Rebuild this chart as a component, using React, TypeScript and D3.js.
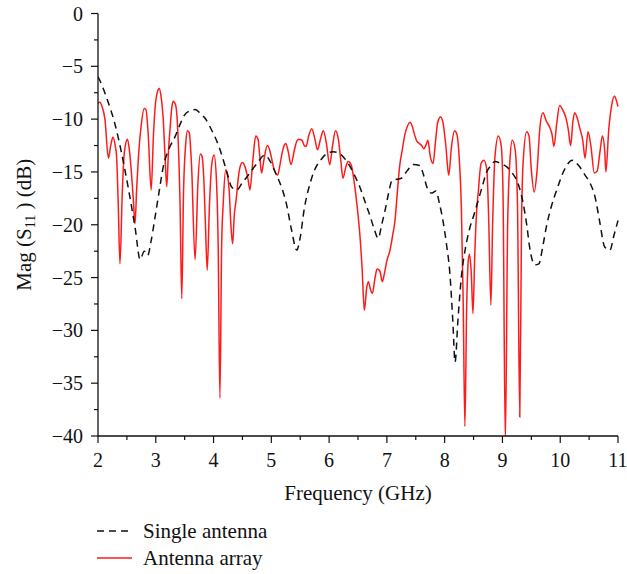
import React from "react";
import * as d3 from "d3";

// Single antenna (dashed black)
const singleFreq = [2.00,2.02,2.15,2.29,2.40,2.52,2.64,2.73,2.80,2.86,2.92,2.99,3.06,3.13,3.23,3.33,3.42,3.50,3.60,3.68,3.76,3.85,3.99,4.08,4.17,4.24,4.31,4.40,4.50,4.63,4.75,4.89,4.98,5.09,5.18,5.26,5.35,5.44,5.50,5.57,5.67,5.75,5.85,5.98,6.07,6.16,6.25,6.33,6.43,6.53,6.62,6.71,6.78,6.85,6.91,6.97,7.03,7.09,7.17,7.25,7.35,7.45,7.57,7.63,7.69,7.77,7.85,7.91,7.97,8.03,8.09,8.14,8.18,8.23,8.29,8.36,8.44,8.51,8.58,8.65,8.72,8.80,8.87,8.97,9.07,9.17,9.27,9.36,9.42,9.47,9.56,9.63,9.70,9.76,9.85,9.94,10.08,10.21,10.32,10.43,10.52,10.60,10.68,10.77,10.86,10.93,11.00];
const singleS11 = [-6.0,-6.2,-8.0,-10.4,-13.0,-16.4,-20.2,-23.3,-22.5,-22.9,-21.5,-19.2,-16.8,-14.5,-12.8,-11.7,-10.5,-9.6,-9.2,-9.1,-9.4,-9.9,-11.3,-12.4,-13.9,-15.2,-16.4,-16.7,-16.0,-15.1,-14.2,-13.4,-14.0,-15.3,-16.5,-18.0,-20.5,-22.4,-21.2,-18.5,-16.1,-14.8,-13.9,-13.2,-13.1,-13.2,-13.6,-14.2,-15.2,-16.4,-17.8,-19.2,-20.4,-21.3,-20.0,-18.6,-17.0,-15.8,-15.7,-15.6,-14.9,-14.3,-14.4,-15.2,-16.4,-17.0,-16.8,-18.0,-19.6,-21.8,-24.6,-29.0,-33.0,-29.0,-24.9,-22.2,-20.2,-19.0,-17.7,-16.4,-15.1,-14.4,-14.0,-14.2,-14.5,-15.1,-16.1,-18.0,-20.0,-22.1,-23.8,-23.7,-22.0,-20.2,-18.2,-16.7,-14.7,-13.9,-14.4,-15.3,-16.1,-17.3,-19.6,-22.1,-22.4,-21.0,-19.6];

// Antenna array (solid red)
const arrayFreq = [2.00,2.03,2.07,2.12,2.18,2.22,2.26,2.30,2.32,2.35,2.38,2.42,2.45,2.47,2.51,2.54,2.57,2.61,2.64,2.67,2.70,2.75,2.80,2.83,2.87,2.92,2.96,2.99,3.03,3.06,3.09,3.13,3.16,3.19,3.22,3.25,3.28,3.30,3.34,3.38,3.42,3.45,3.48,3.52,3.55,3.58,3.62,3.68,3.73,3.77,3.80,3.83,3.86,3.89,3.93,3.97,4.01,4.05,4.08,4.11,4.14,4.17,4.21,4.24,4.27,4.30,4.33,4.36,4.39,4.43,4.46,4.50,4.55,4.60,4.63,4.68,4.73,4.77,4.80,4.83,4.87,4.93,4.97,5.00,5.05,5.11,5.15,5.18,5.22,5.25,5.29,5.34,5.40,5.44,5.47,5.53,5.57,5.60,5.65,5.70,5.75,5.80,5.85,5.90,5.95,6.01,6.06,6.11,6.16,6.20,6.24,6.29,6.33,6.38,6.43,6.48,6.53,6.57,6.61,6.65,6.68,6.72,6.75,6.79,6.83,6.88,6.92,6.95,7.00,7.05,7.10,7.14,7.18,7.22,7.27,7.31,7.36,7.40,7.44,7.47,7.52,7.56,7.60,7.64,7.68,7.71,7.75,7.80,7.84,7.88,7.93,7.97,8.02,8.07,8.12,8.17,8.21,8.25,8.29,8.32,8.35,8.38,8.41,8.43,8.46,8.49,8.52,8.55,8.58,8.63,8.68,8.73,8.76,8.80,8.83,8.87,8.93,8.98,9.01,9.05,9.09,9.13,9.17,9.22,9.26,9.30,9.33,9.36,9.42,9.46,9.50,9.55,9.60,9.65,9.70,9.76,9.82,9.86,9.89,9.94,9.99,10.05,10.10,10.14,10.18,10.22,10.25,10.30,10.34,10.39,10.43,10.48,10.53,10.59,10.64,10.69,10.73,10.77,10.79,10.84,10.89,10.94,10.97,11.00];
const arrayS11 = [-8.5,-8.4,-8.8,-10.0,-13.7,-12.5,-11.7,-12.6,-13.4,-18.0,-23.7,-17.0,-13.5,-12.6,-11.9,-12.8,-14.5,-17.5,-19.9,-16.5,-13.6,-10.5,-9.0,-9.1,-11.5,-16.7,-11.5,-8.8,-7.4,-7.1,-7.8,-10.1,-13.5,-16.4,-13.0,-10.7,-8.8,-8.3,-8.6,-11.0,-18.0,-27.0,-17.0,-12.2,-11.1,-11.3,-14.5,-23.3,-16.0,-13.3,-13.5,-15.5,-20.0,-24.3,-18.0,-14.2,-13.4,-15.8,-22.0,-36.4,-22.0,-17.7,-14.8,-15.3,-16.7,-20.0,-21.8,-19.0,-17.7,-15.5,-14.5,-14.1,-14.6,-15.8,-16.7,-13.9,-11.6,-11.9,-13.5,-15.1,-13.9,-12.5,-12.9,-13.6,-14.8,-15.3,-14.3,-13.4,-12.5,-12.3,-13.0,-14.3,-12.9,-12.1,-11.9,-12.0,-12.5,-12.6,-11.5,-10.9,-11.8,-12.9,-11.9,-11.1,-12.2,-14.3,-12.5,-11.1,-11.9,-13.8,-15.6,-14.5,-14.0,-14.3,-15.8,-18.0,-20.8,-24.0,-28.1,-26.0,-25.4,-26.2,-26.5,-25.2,-24.2,-24.4,-25.4,-24.8,-23.4,-22.5,-21.0,-19.6,-17.0,-14.5,-12.8,-11.5,-10.6,-10.3,-10.7,-11.3,-12.1,-12.3,-12.5,-12.8,-12.4,-12.0,-13.5,-14.2,-12.2,-10.3,-9.8,-10.3,-12.5,-15.3,-12.5,-11.1,-11.4,-13.5,-18.6,-27.0,-39.1,-28.0,-23.3,-22.8,-24.5,-28.4,-23.0,-19.0,-17.0,-14.2,-13.9,-14.8,-19.0,-27.6,-20.0,-13.6,-11.6,-12.6,-17.0,-40.5,-20.0,-13.9,-12.0,-12.9,-18.0,-38.2,-20.0,-13.9,-11.2,-11.6,-14.8,-16.9,-14.8,-10.7,-9.4,-10.2,-10.8,-11.5,-12.6,-10.4,-8.7,-9.2,-9.9,-11.0,-12.5,-10.2,-9.4,-10.0,-10.9,-12.0,-13.7,-11.2,-12.5,-15.1,-14.9,-13.0,-11.6,-13.0,-15.0,-11.0,-8.7,-7.8,-8.2,-8.8];

const xMajor = [2, 3, 4, 5, 6, 7, 8, 9, 10, 11];
const yMajor = [0, -5, -10, -15, -20, -25, -30, -35, -40];
const legendLabels = ["Single antenna", "Antenna array"];

const W = 627, H = 574;
const L = 98, R = 618, T = 13.5, B = 436;
const FONT = "Liberation Serif, DejaVu Serif, serif";

export default function App() {
  const x = d3.scaleLinear().domain([2, 11]).range([L, R]);
  const y = d3.scaleLinear().domain([0, -40]).range([T, B]);
  const line = d3.line<[number, number]>().x(d => x(d[0])).y(d => y(d[1])).curve(d3.curveMonotoneX);
  const single = singleFreq.map((f, i) => [f, singleS11[i]] as [number, number]);
  const arr = arrayFreq.map((f, i) => [f, arrayS11[i]] as [number, number]);
  const xMinor = d3.range(2.5, 11, 1);
  const yMinor = d3.range(-2.5, -40, -5);
  const minus = (v: number) => (v < 0 ? "\u2212" + Math.abs(v) : String(v));
  const ts = { fontFamily: FONT } as React.CSSProperties;

  return (
    <svg width={W} height={H} style={{ position: "absolute", left: 0, top: 0, background: "#fff", fontFamily: FONT }}>
      <defs>
        <clipPath id="plot"><rect x={L} y={T - 20} width={R - L + 5} height={B - T + 20} /></clipPath>
      </defs>
      <g clipPath="url(#plot)">
        <path d={line(arr) || ""} fill="none" stroke="#ff1a1a" strokeWidth={1.5} />
        <path d={line(single) || ""} fill="none" stroke="#111" strokeWidth={1.5} strokeDasharray="7,5" />
      </g>
      {/* axes */}
      <line x1={L} x2={L} y1={T} y2={B} stroke="#111" strokeWidth={1.3} />
      <line x1={L} x2={R} y1={B} y2={B} stroke="#111" strokeWidth={1.3} />
      {yMajor.map(v => (
        <g key={"y" + v}>
          <line x1={L - 7} x2={L} y1={y(v)} y2={y(v)} stroke="#111" strokeWidth={1.2} />
          <text style={ts} x={L - 15} y={y(v)} dy="0.35em" textAnchor="end" fontSize={20} fill="#111">{minus(v)}</text>
        </g>
      ))}
      {yMinor.map(v => (
        <line key={"ym" + v} x1={L - 4} x2={L} y1={y(v)} y2={y(v)} stroke="#111" strokeWidth={1.2} />
      ))}
      {xMajor.map(v => (
        <g key={"x" + v}>
          <line x1={x(v)} x2={x(v)} y1={B} y2={B + 7} stroke="#111" strokeWidth={1.2} />
          <text style={ts} x={x(v)} y={B + 31} textAnchor="middle" fontSize={20} fill="#111">{v}</text>
        </g>
      ))}
      {xMinor.map(v => (
        <line key={"xm" + v} x1={x(v)} x2={x(v)} y1={B} y2={B + 4} stroke="#111" strokeWidth={1.2} />
      ))}
      <text style={ts} x={(L + R) / 2} y={500} textAnchor="middle" fontSize={21} fill="#111">Frequency (GHz)</text>
      <text style={ts} transform={`translate(31, ${(T + B) / 2}) rotate(-90)`} textAnchor="middle" fontSize={21} fill="#111">
        Mag (S<tspan fontSize={14} dy={4}>11</tspan><tspan dy={-4}> ) (dB)</tspan>
      </text>
      {/* legend */}
      <line x1={97} x2={132} y1={531} y2={531} stroke="#111" strokeWidth={1.5} strokeDasharray="7,5" />
      <text style={ts} x={143} y={538} fontSize={21} fill="#111">{legendLabels[0]}</text>
      <line x1={97} x2={132} y1={558} y2={558} stroke="#ff1a1a" strokeWidth={1.5} />
      <text style={ts} x={143} y={565} fontSize={21} fill="#111">{legendLabels[1]}</text>
    </svg>
  );
}
